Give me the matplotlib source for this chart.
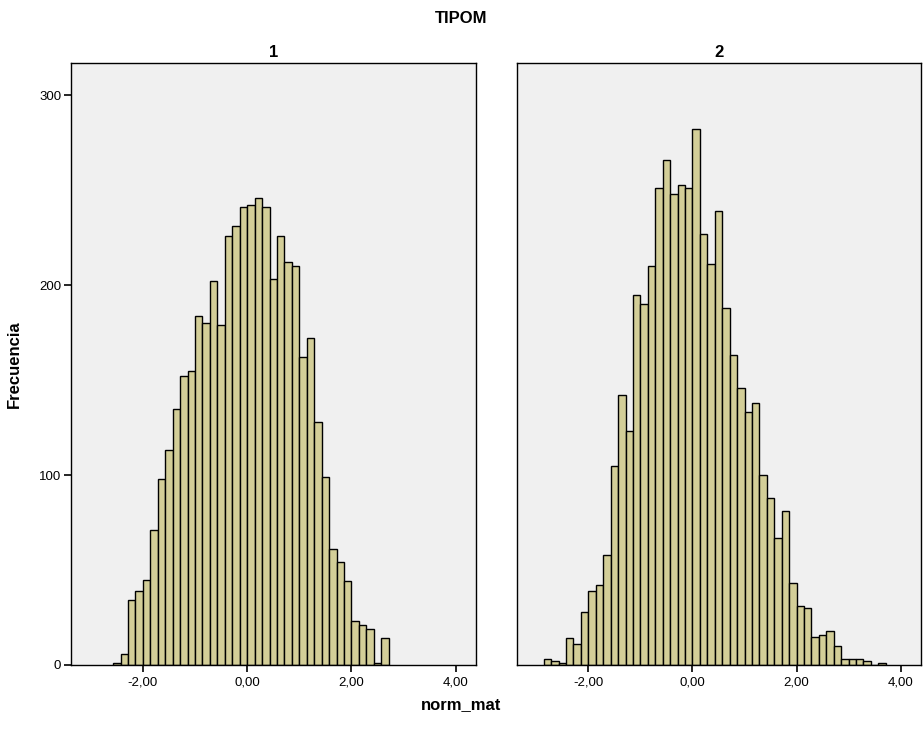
import numpy as np
import matplotlib
matplotlib.use("Agg")
import matplotlib.pyplot as plt

plt.rcParams['font.family'] = ['Liberation Sans', 'DejaVu Sans']

# Datos (frecuencias por intervalo)
ancho_bin = 2 / 14
inicio_1 = -2 - 4 * ancho_bin
frec_1 = [1, 6, 34, 39, 45, 71, 98, 113, 135, 152, 155, 184, 180, 202, 179,
          226, 231, 241, 242, 246, 241, 203, 226, 212, 210, 162, 172, 128,
          99, 61, 54, 44, 23, 21, 19, 1, 14]
inicio_2 = -2 - 6 * ancho_bin
frec_2 = [3, 2, 1, 14, 11, 28, 39, 42, 58, 105, 142, 123, 195, 190, 210,
          251, 266, 248, 253, 251, 282, 227, 211, 239, 188, 163, 146, 133,
          138, 100, 88, 67, 81, 43, 31, 30, 15, 16, 18, 10, 3, 3, 3, 2, 0, 1]

paneles = ["1", "2"]
x_ticks = [-2, 0, 2, 4]
x_etiquetas = ["-2,00", "0,00", "2,00", "4,00"]
y_ticks = [0, 100, 200, 300]

color_barra = "#D3CE98"
color_fondo = "#F0F0F0"

fig = plt.figure(figsize=(9.23, 7.29), dpi=100)
ax1 = fig.add_axes([0.0769, 0.0878, 0.4388, 0.8258])
ax2 = fig.add_axes([0.5596, 0.0878, 0.4382, 0.8258])

for ax, inicio, frec, nombre in [(ax1, inicio_1, frec_1, paneles[0]),
                                  (ax2, inicio_2, frec_2, paneles[1])]:
    izq = inicio + ancho_bin * np.arange(len(frec))
    ax.bar(izq, frec, width=ancho_bin, align="edge", color=color_barra,
           edgecolor="black", linewidth=1.0)
    ax.set_facecolor(color_fondo)
    ax.set_xlim(-3.38, 4.39)
    ax.set_ylim(0, 317)
    ax.set_xticks(x_ticks)
    ax.set_xticklabels(x_etiquetas)
    ax.tick_params(axis="x", direction="out", length=5, width=1.2,
                   labelsize=9.5, pad=3)
    ax.set_title(nombre, fontsize=12, fontweight="bold", pad=4)
    for s in ax.spines.values():
        s.set_linewidth(1.0)
        s.set_color("black")

ax1.set_yticks(y_ticks)
ax1.tick_params(axis="y", direction="out", length=5, width=1.2,
                labelsize=9.5, pad=2)
ax2.set_yticks([])

fig.text(0.5, 0.975, "TIPOM", ha="center", va="center", fontsize=12,
         fontweight="bold")
fig.text(0.5, 0.033, "norm_mat", ha="center", va="center", fontsize=12,
         fontweight="bold")
fig.text(0.016, 0.5, "Frecuencia", ha="center", va="center", rotation=90,
         fontsize=12, fontweight="bold")

fig.savefig("out.png", dpi=100)
